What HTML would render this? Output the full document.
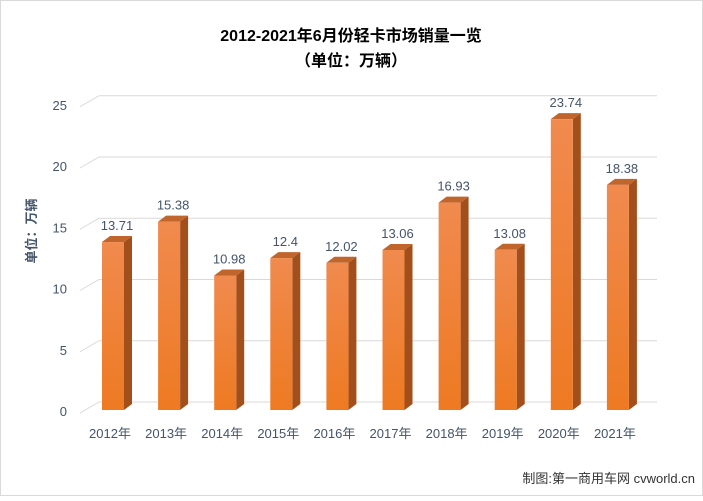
<!DOCTYPE html>
<html><head><meta charset="utf-8"><style>
body{margin:0;background:#fff;font-family:"Liberation Sans","Noto Sans CJK SC",sans-serif;}
svg text{font-family:"Liberation Sans","Noto Sans CJK SC",sans-serif;}
</style></head><body>
<svg width="703" height="496" viewBox="0 0 703 496">
<defs>
<linearGradient id="front" x1="0" y1="0" x2="0" y2="1"><stop offset="0" stop-color="#f08a4e"/><stop offset="1" stop-color="#ee7a22"/></linearGradient>
<linearGradient id="fh" x1="0" y1="0" x2="1" y2="0"><stop offset="0" stop-color="#ffffff" stop-opacity="0.12"/><stop offset="1" stop-color="#000" stop-opacity="0.05"/></linearGradient>
</defs>
<rect x="0.5" y="0.5" width="702" height="495" fill="#fff" stroke="#d9d9d9"/>
<text x="351" y="41" text-anchor="middle" font-size="16" font-weight="bold" fill="#000">2012-2021年6月份轻卡市场销量一览</text>
<text x="351" y="66" text-anchor="middle" font-size="16" font-weight="bold" fill="#000">（单位：万辆）</text>
<text transform="translate(36,231) rotate(-90)" text-anchor="middle" font-size="13" font-weight="bold" fill="#44546a">单位：万辆</text>
<g id="grid"></g><g id="bars"></g>
<text x="695" y="483" text-anchor="end" font-size="13" fill="#333">制图:第一商用车网 cvworld.cn</text>
</svg>
<script>
const categories=["2012年","2013年","2014年","2015年","2016年","2017年","2018年","2019年","2020年","2021年"];
const values=[13.71,15.38,10.98,12.4,12.02,13.06,16.93,13.08,23.74,18.38];
const ticks=[0,5,10,15,20,25];
const NS="http://www.w3.org/2000/svg";
const y=v=>410-v*12.25;
const x=i=>102+i*56.1;
function mk(t,a,p){const e=document.createElementNS(NS,t);for(const k in a)e.setAttribute(k,a[k]);p.appendChild(e);return e;}
const g=document.getElementById('grid'),b=document.getElementById('bars');
ticks.forEach(t=>{
 const yy=y(t);
 const l=mk('polyline',{points:`80,${yy+3} 99,${yy-8} 657,${yy-8}`,fill:'none',stroke:'#d9d9d9','stroke-width':1},g);
 
 
 const tx=mk('text',{x:67,y:yy+6,'text-anchor':'end','font-size':13,fill:'#44546a'},g);
 tx.textContent=t;
 
 
});
values.forEach((v,i)=>{
 const x0=x(i),w=22,dx=8,dy=6,yt=y(v),yb=410;
 const grp=mk('g',{},b);
 
 
 mk('polygon',{points:`${x0+w},${yt} ${x0+w+dx},${yt-dy} ${x0+w+dx},${yb-dy} ${x0+w},${yb}`,fill:'#a34f1b'},grp);
 mk('polygon',{points:`${x0},${yt} ${x0+dx},${yt-dy} ${x0+w+dx},${yt-dy} ${x0+w},${yt}`,fill:'#c0652c'},grp);
 mk('rect',{x:x0,y:yt,width:w,height:yb-yt,fill:'url(#front)'},grp);
 const lab=mk('text',{x:x0+15,y:yt-12,'text-anchor':'middle','font-size':13,fill:'#44546a'},b);
 lab.textContent=v;
 
 
 const c=mk('text',{x:x0+8,y:438,'text-anchor':'middle','font-size':13,fill:'#44546a'},b);
 c.textContent=categories[i];
 
 
});
</script>
</body></html>
